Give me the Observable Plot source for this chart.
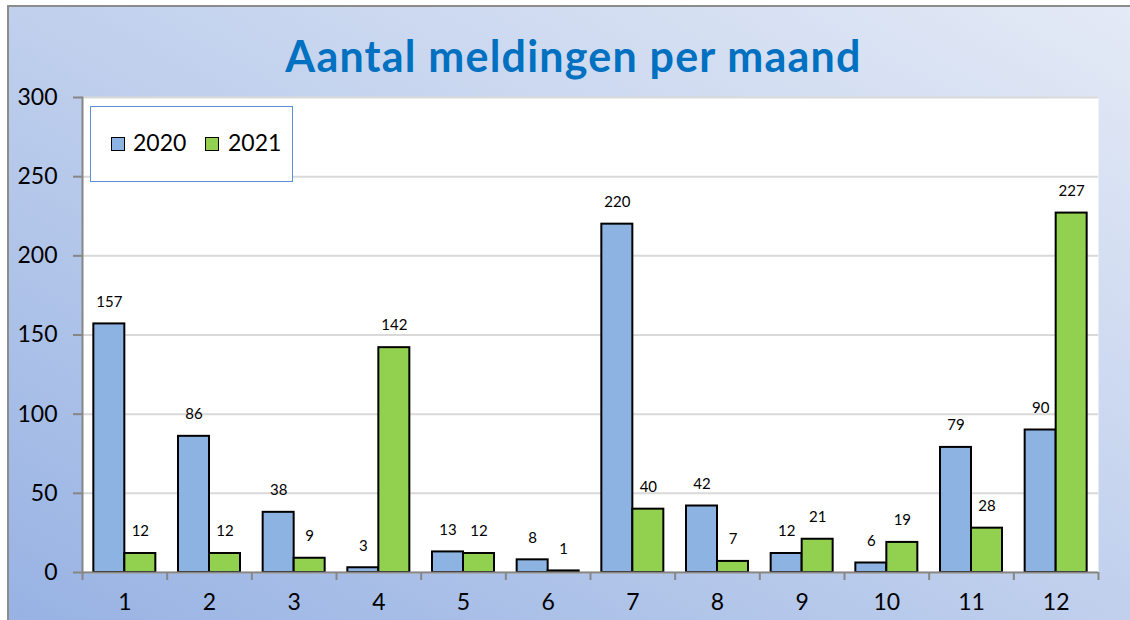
<!DOCTYPE html>
<html><head><meta charset="utf-8">
<script src="https://cdn.jsdelivr.net/npm/d3@7"></script>
<script src="https://cdn.jsdelivr.net/npm/@observablehq/plot@0.6"></script>
<style>
html,body{margin:0;padding:0;background:#fff;}
#wrap{position:relative;width:1130px;height:620px;overflow:hidden;font-family:Lato,sans-serif;}
#bg{position:absolute;left:7px;top:5px;width:1130px;height:620px;border-top:2px solid #8c8c8c;border-left:2px solid #8c8c8c;
 background:linear-gradient(to top right,#97b2e3 0%,#bccdec 45%,#e4eaf6 100%);}
#title{position:absolute;left:0;width:1147px;top:34px;line-height:43px;text-align:center;font-weight:700;font-size:43px;letter-spacing:1.2px;color:#0070c0;}
#chart{position:absolute;left:0;top:90px;}
#legend{position:absolute;left:90px;top:106px;width:201px;height:74px;border:1.5px solid #5b8fd8;background:#fff;}
.sw{position:absolute;width:12px;height:12px;border:1.5px solid #000;top:30px;}
.lt{position:absolute;font-size:23px;line-height:23px;top:24px;color:#000;}
</style></head>
<body>
<div id="wrap">
 <div id="bg"></div>
 <div id="title"></div>
 <div id="chart"></div>
 <div id="legend"></div>
</div>
<script>
const titleText = "Aantal meldingen per maand";
const months = [1,2,3,4,5,6,7,8,9,10,11,12];
const years = ["2020","2021"];
const values2020 = [157,86,38,3,13,8,220,42,12,6,79,90];
const values2021 = [12,12,9,142,12,1,40,7,21,19,28,227];
const yTicks = [0,50,100,150,200,250,300];
const colors = ["#8db3e2","#92d050"];

document.getElementById("title").textContent = titleText;

const W = 1130, H = 530, mL = 82, mR = 32, mT = 7, mB = 48;
const bw = (W - mL - mR) / months.length;
const barW = 31;

const d2020 = months.map((m,i)=>({month:m, year:years[0], value:values2020[i]}));
const d2021 = months.map((m,i)=>({month:m, year:years[1], value:values2021[i]}));

const axisGray = "#868686";
const chart = Plot.plot({
  width: W, height: H, marginLeft: mL, marginRight: mR, marginTop: mT, marginBottom: mB,
  style: {background:"transparent", fontFamily:"Lato, sans-serif", color:"#000", overflow:"visible"},
  x: {type:"band", domain: months, padding: 0, round: false, label: null},
  y: {domain:[0,300], label: null},
  marks: [
    Plot.frame({fill:"white", stroke:null}),
    Plot.gridY(yTicks, {stroke:"#d9d9d9", strokeWidth:2, strokeOpacity:1}),
    Plot.barY(d2020, {x:"month", y:"value", fill:colors[0], stroke:"#000", strokeWidth:2,
      insetLeft: bw/2 - barW, insetRight: bw/2}),
    Plot.barY(d2021, {x:"month", y:"value", fill:colors[1], stroke:"#000", strokeWidth:2,
      insetLeft: bw/2, insetRight: bw/2 - barW}),
    Plot.text(d2020, {x:"month", y:"value", text: d=>String(d.value), dx: -barW/2, dy: -22, lineAnchor:"middle", fontSize:15, fill:"#000"}),
    Plot.text(d2021, {x:"month", y:"value", text: d=>String(d.value), dx: barW/2, dy: -22, lineAnchor:"middle", fontSize:15, fill:"#000"}),
    Plot.ruleY([0], {stroke:axisGray, strokeWidth:2}),
    Plot.frame({anchor:"left", stroke:axisGray, strokeWidth:2, strokeOpacity:1}),
    Plot.ruleX(months, {x:d=>d, dx:-bw/2, y1:0, y2:0, insetBottom:-8, stroke:axisGray, strokeWidth:2}),
    Plot.ruleX([months[months.length-1]], {x:d=>d, dx:bw/2, y1:0, y2:0, insetBottom:-8, stroke:axisGray, strokeWidth:2}),
    Plot.axisY(yTicks, {tickSize:9, tickPadding:16, fontSize:23, stroke:axisGray, strokeWidth:2, strokeOpacity:1, label:null}),
    Plot.axisX(months, {tickSize:0, tickPadding:21, fontSize:23, label:null})
  ]
});
document.getElementById("chart").appendChild(chart);

// legend
const leg = document.getElementById("legend");
const swX = [20, 114], txX = [42, 137];
years.forEach((y,i)=>{
  const s = document.createElement("div"); s.className="sw"; s.style.left = swX[i]+"px"; s.style.background = colors[i]; leg.appendChild(s);
  const t = document.createElement("div"); t.className="lt"; t.style.left = txX[i]+"px"; t.textContent = y; leg.appendChild(t);
});
</script>
</body></html>
